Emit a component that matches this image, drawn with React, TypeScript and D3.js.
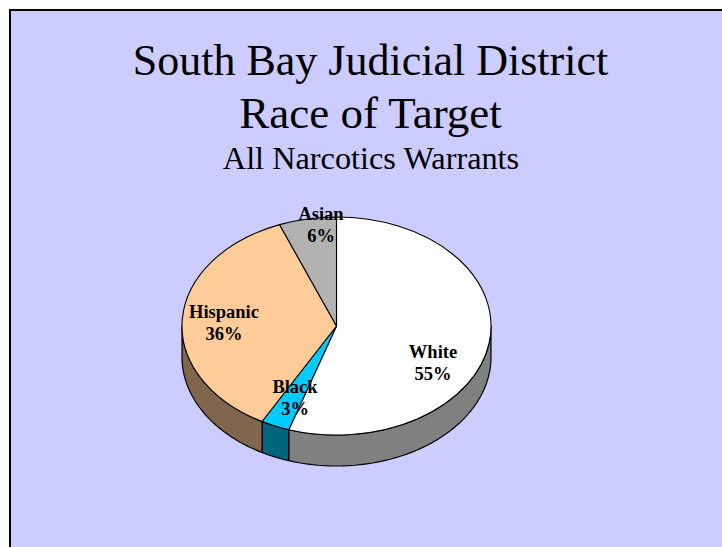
import React from "react";
import * as d3 from "d3";

const categories = ["White", "Black", "Hispanic", "Asian"];
const shares = [55, 3, 36, 6];
const topColors = ["#FFFFFF", "#00CCFF", "#FFCC99", "#B2B2B2"];
const sideColors = ["#808080", "#006680", "#80664D", "#595959"];
const titleLines = ["South Bay Judicial District", "Race of Target"];
const subtitle = "All Narcotics Warrants";

const W = 722, H = 547;
const cx = 336.5, cy = 326, rx = 154.5, ry = 109, depth = 31;
const labelPos = [
  { x: 433, y: 358 },
  { x: 295, y: 393 },
  { x: 224, y: 318 },
  { x: 321, y: 220 },
];

const px = (a: number) => cx + rx * Math.sin(a);
const py = (a: number) => cy - ry * Math.cos(a);

export default function App() {
  const arcs = d3.pie<number>().sort(null)(shares);
  const arcGen = d3.arc<d3.PieArcDatum<number>>().innerRadius(0).outerRadius(rx);
  const sides = arcs.map((a) => {
    const s = Math.max(a.startAngle, Math.PI / 2);
    const e = Math.min(a.endAngle, (3 * Math.PI) / 2);
    if (e <= s) return null;
    const p = d3.path();
    const n = 48;
    d3.range(n + 1).forEach((i) => {
      const t = s + ((e - s) * i) / n;
      if (i === 0) p.moveTo(px(t), py(t));
      else p.lineTo(px(t), py(t));
    });
    d3.range(n, -1, -1).forEach((i) => {
      const t = s + ((e - s) * i) / n;
      p.lineTo(px(t), py(t) + depth);
    });
    p.closePath();
    return p.toString();
  });
  const font = "'Liberation Serif', 'Times New Roman', serif";
  return (
    <svg width={W} height={H} style={{ position: "absolute", left: 0, top: 0, display: "block" }} fontFamily={font}>
      <rect width={W} height={H} fill="#fff" />
      <rect x={10} y={10} width={W + 20} height={H + 20} fill="#CCCCFF" stroke="#000" strokeWidth={2} />
      <text x={370.5} y={75} fontSize={44} textAnchor="middle" fill="#000">{titleLines[0]}</text>
      <text x={370.5} y={128} fontSize={45} textAnchor="middle" fill="#000">{titleLines[1]}</text>
      <text x={371} y={169} fontSize={32.3} textAnchor="middle" fill="#000">{subtitle}</text>
      {sides.map((d, i) => d && <path key={i} d={d} fill={sideColors[i]} stroke="#000" strokeWidth={1.2} strokeLinejoin="round" />)}
      <g transform={`translate(${cx},${cy}) scale(1,${ry / rx})`}>
        {arcs.map((a, i) => (
          <path key={i} d={arcGen(a) ?? ""} fill={topColors[i]} stroke="#000" strokeWidth={1.1} vectorEffect="non-scaling-stroke" strokeLinejoin="round" />
        ))}
      </g>
      {categories.map((c, i) => (
        <text key={c} textAnchor="middle" fontSize={18.5} fontWeight="bold" fill="#000">
          <tspan x={labelPos[i].x} y={labelPos[i].y}>{c}</tspan>
          <tspan x={labelPos[i].x} y={labelPos[i].y + 22}>{shares[i]}%</tspan>
        </text>
      ))}
    </svg>
  );
}
